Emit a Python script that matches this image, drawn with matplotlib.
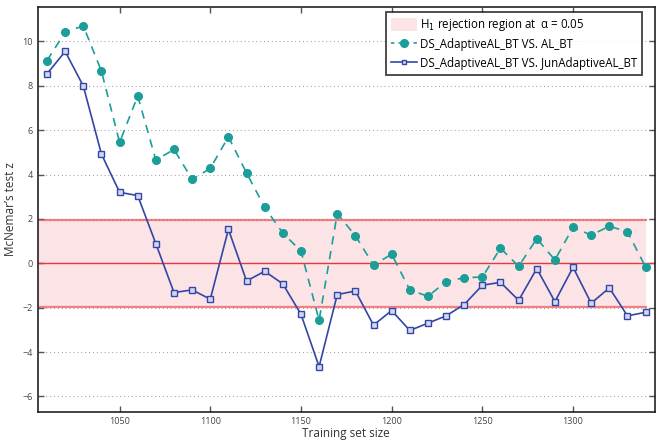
import numpy as np
from matplotlib import pyplot as plt
from matplotlib.patches import Patch
from matplotlib.lines import Line2D

# training set sizes
sizes = list(range(1010, 1350, 10))

# DS_AdaptiveAL_BT VS. AL_BT
z_al = [9.14, 10.42, 10.70, 8.66, 5.45, 7.54, 4.65, 5.13, 3.78, 4.28,
        5.70, 4.07, 2.52, 1.36, 0.55, -2.57, 2.24, 1.24, -0.08, 0.41,
        -1.20, -1.49, -0.83, -0.65, -0.62, 0.68, -0.14, 1.11, 0.15, 1.62,
        1.27, 1.67, 1.42, -0.17]

# DS_AdaptiveAL_BT VS. JunAdaptiveAL_BT
z_jun = [8.54, 9.55, 7.99, 4.92, 3.20, 3.05, 0.88, -1.32, -1.20, -1.62,
         1.53, -0.80, -0.36, -0.93, -2.30, -4.66, -1.41, -1.25, -2.79, -2.13,
         -3.03, -2.70, -2.37, -1.86, -0.99, -0.86, -1.67, -0.24, -1.73, -0.18,
         -1.80, -1.11, -2.37, -2.21]

z_crit = 1.96
x_ticks = [1050, 1100, 1150, 1200, 1250, 1300]
y_ticks = [-6, -4, -2, 0, 2, 4, 6, 8, 10]

teal = "#1b9e98"
blue = "#3346a6"
pink = "#fbe3e6"
red = "#e8383d"

plt.rcParams["font.family"] = ["Open Sans", "DejaVu Sans"]

fig = plt.figure(figsize=(6.66, 4.41), dpi=100)
ax = fig.add_axes([0.057, 0.066, 0.926, 0.918])

ax.fill_between([1000, sizes[-1]], -z_crit, z_crit, color=pink, lw=0, zorder=1)
for yv in (-z_crit, z_crit):
    ax.plot([1000, sizes[-1]], [yv, yv], color=red, lw=1.6, alpha=0.6, zorder=2)
ax.axhline(0, color=red, lw=1.0, zorder=2)

for yv in y_ticks:
    if abs(yv) > z_crit:
        ax.axhline(yv, color="#999999", lw=0.7, ls=(0, (1, 3)), zorder=0)

ax.plot(sizes, z_al, ls=(0, (5, 4)), color=teal, lw=1.2, marker="o",
        ms=5.5, mfc=teal, mec=teal, zorder=4)
ax.plot(sizes, z_jun, ls="-", color=blue, lw=1.2, marker="s", ms=4,
        mfc="#d3d7f0", mec=blue, mew=1.0, zorder=3)

ax.set_xlim(1005, 1345)
ax.set_ylim(-6.7, 11.55)
ax.set_xticks(x_ticks)
ax.set_yticks(y_ticks)
ax.tick_params(direction="in", top=True, right=True, length=4, width=1.0,
               labelsize=6.5, labelcolor="#444444", color="#555555")
for s in ax.spines.values():
    s.set_linewidth(1.2)
    s.set_color("#222222")

ax.set_xlabel("Training set size", fontsize=8.5, color="#333333", labelpad=1)
ax.set_ylabel("McNemar\u2019s test z", fontsize=8.5, color="#333333", labelpad=4)

handles = [
    Patch(facecolor=pink, edgecolor="none"),
    Line2D([], [], ls=(0, (2, 2.5)), color=teal, lw=1.2, marker="o", ms=5.5, mfc=teal),
    Line2D([], [], ls="-", color=blue, lw=1.2, marker="s", ms=3.5, mfc="#d3d7f0", mec=blue),
]
labels = [
    "H$_1$ rejection region at  \u03b1 = 0.05",
    "DS_AdaptiveAL_BT VS. AL_BT",
    "DS_AdaptiveAL_BT VS. JunAdaptiveAL_BT",
]
leg = ax.legend(handles, labels, loc="upper right", bbox_to_anchor=(0.98, 0.988),
                fontsize=8.3, frameon=True, fancybox=False, handlelength=2.2,
                handleheight=1.3, handletextpad=0.3, borderpad=0.45,
                labelspacing=0.45, borderaxespad=0)
leg.get_frame().set_edgecolor("#111111")
leg.get_frame().set_linewidth(1.3)
leg.set_zorder(10)

fig.savefig("out.png", dpi=100)
